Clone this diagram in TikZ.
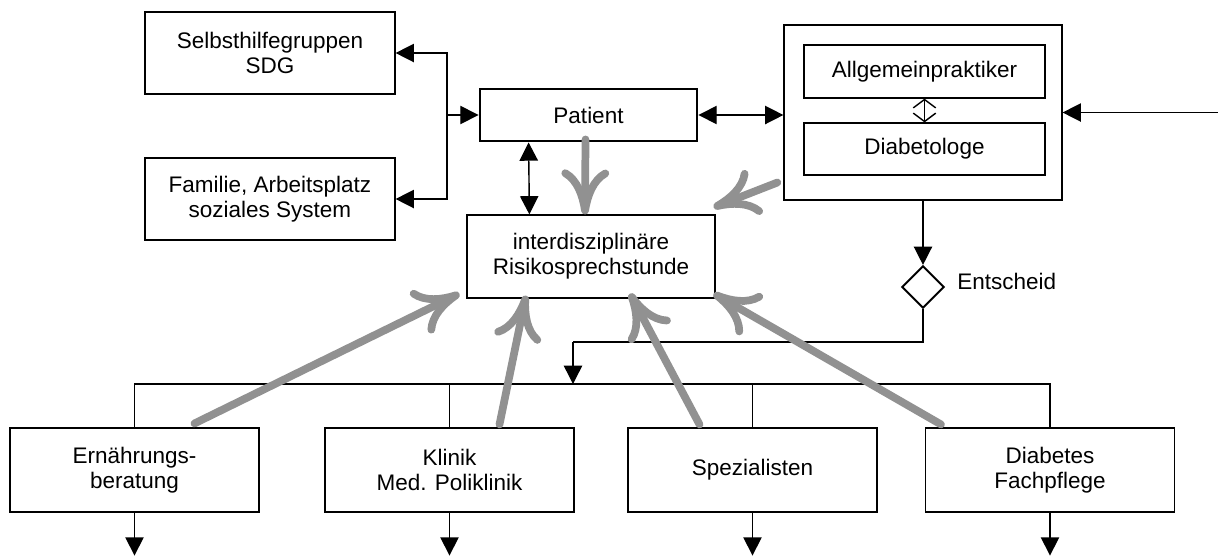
\documentclass[tikz,border=0pt]{standalone}
\usepackage{fontspec}
\setmainfont{Liberation Sans}
\usetikzlibrary{arrows.meta,shapes.geometric,calc}
\definecolor{arrowgray}{RGB}{145,145,145}

\begin{document}
\begin{tikzpicture}[x=0.025cm, y=-0.025cm,
    font=\fontsize{16}{18}\selectfont,
    box/.style={draw=black, line width=0.8pt, align=center, inner sep=0pt},
    smallbox/.style={box, minimum width=6.225cm, minimum height=2.1cm},
    line/.style={line width=1pt},
    arr/.style={line width=1pt, -{Triangle[length=13pt,width=13pt]}},
    biarr/.style={line width=1pt, {Triangle[length=13pt,width=13pt]}-{Triangle[length=13pt,width=13pt]}},
    openarr/.style={line width=1pt, {Straight Barb[length=6pt,width=16pt]}-{Straight Barb[length=6pt,width=16pt]}},
    fb/.style={draw=arrowgray, line width=5.5pt, line cap=round,
      -{Computer Modern Rightarrow[length=32pt,width=34pt]}}]
    \useasboundingbox (0,0) rectangle (1218,555);

    % upper part
    \node[box, minimum width=6.25cm, minimum height=2.05cm] (shg) at (270,53) {Selbsthilfegruppen\\SDG};
    \node[box, minimum width=6.25cm, minimum height=2.05cm] (fam) at (270,199) {Familie, Arbeitsplatz\\soziales System};
    \node[box, line width=2pt, minimum width=5.425cm, minimum height=1.3cm] (pat) at (588.5,115) {Patient};
    \node[box, minimum width=6.95cm, minimum height=4.375cm] (hausarzt) at (923,112.5) {};
    \node[box, minimum width=6.025cm, minimum height=1.325cm] (agp) at (924.5,71.5) {Allgemeinpraktiker};
    \node[box, minimum width=6.025cm, minimum height=1.3cm] (dia) at (924.5,149) {Diabetologe};
    \node[box, minimum width=6.2cm, minimum height=2.075cm] (risk) at (591,256.5) {interdisziplinäre\\Risikosprechstunde};
    \node[diamond, draw, line width=1.4pt, aspect=1, minimum size=30pt, inner sep=0pt] (ent) at (923,287) {};
    \node[anchor=west, inner sep=0pt] (entlabel) at (957,281) {Entscheid};

    % lower row
    \node[smallbox] (ern) at (134.5,470) {Ernährungs-\\beratung};
    \node[smallbox] (kli) at (449.5,470) {Klinik\\Med. Poliklinik};
    \node[smallbox] (spz) at (752.5,470) {Spezialisten};
    \node[smallbox] (dfp) at (1050,470) {Diabetes\\Fachpflege};

    \coordinate (split) at (447,115);
    \coordinate (ext) at (1218,112.5);
    \coordinate (turn) at (573,342);
    \coordinate (bus) at (573,384);

    % black connectors
    \draw[arr] (split) -- (pat.west);
    \draw[arr] (split) |- (shg.east);
    \draw[arr] (split) |- (fam.east);
    \draw[biarr] (pat.east) -- (pat.east -| hausarzt.west);
    \draw[biarr] ($(pat.south west)+(50,0)$) -- ($(risk.north west)+(63,0)$);
    \draw[openarr] (agp.south) -- (dia.north);
    \draw[arr] (ext) -- (hausarzt.east);
    \draw[arr] (hausarzt.south) -- (ent.north);
    \draw[line] (ent.south) |- (turn);
    \draw[arr] (turn) -- (bus);
    \draw[line] (ern.north) |- (bus) -| (dfp.north);
    \draw[line] (kli.north) -- (kli.north |- bus);
    \draw[line] (spz.north) -- (spz.north |- bus);
    \foreach \n in {ern,kli,spz,dfp}
      \draw[arr] (\n.south) -- ++(0,43);

    % gray arrows
    \draw[fb] ($(ern.north)+(60,-4)$) -- ($(risk.south west)+(-7,-5)$);
    \draw[fb] ($(kli.north)+(50,-3)$) -- ($(risk.south)+(-65,-3)$);
    \draw[fb] ($(spz.north)+(-53,-3)$) -- ($(risk.south)+(39,-5)$);
    \draw[fb] ($(dfp.north)+(-109,-3)$) -- ($(risk.south east)+(-2,-5)$);
    \draw[fb] ($(pat.south)+(-3,-3)$) -- ($(risk.north)+(-6,0)$);
    \draw[fb] ($(hausarzt.west)+(-6,70)$) -- ($(risk.north east)+(-2,-7)$);
\end{tikzpicture}
\end{document}
